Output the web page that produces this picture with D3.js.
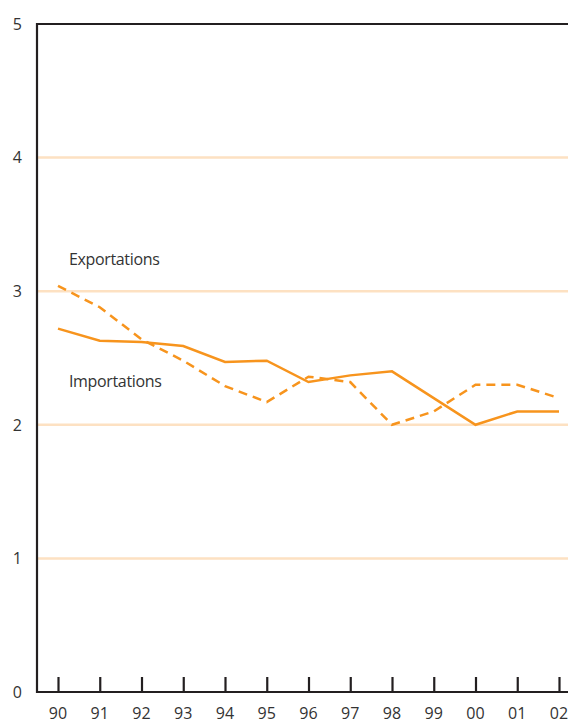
<!DOCTYPE html>
<html>
<head>
<meta charset="utf-8">
<script src="https://cdn.jsdelivr.net/npm/d3@7"></script>
<style>
  body { margin: 0; background: #fff; }
  svg text { font-family: "Open Sans", "Noto Sans", sans-serif; fill: #333; }
</style>
</head>
<body>
<div id="chart"></div>
<script>
const years = ["90", "91", "92", "93", "94", "95", "96", "97", "98", "99", "00", "01", "02"];
const importations = [2.72, 2.63, 2.62, 2.59, 2.47, 2.48, 2.32, 2.37, 2.40, 2.20, 2.00, 2.10, 2.10];
const exportations = [3.04, 2.88, 2.64, 2.48, 2.29, 2.17, 2.36, 2.32, 2.00, 2.10, 2.30, 2.30, 2.20];
const yTicks = [0, 1, 2, 3, 4, 5];

const width = 568, height = 725;
const orange = "#f7941d";

const svg = d3.select("#chart").append("svg")
    .attr("width", width)
    .attr("height", height);

const xScale = d3.scalePoint()
    .domain(years)
    .range([58, 559]);

const yScale = d3.scaleLinear()
    .domain([0, 5])
    .range([692, 24]);

// gridlines
svg.append("g")
    .selectAll("line")
    .data(yTicks.filter(d => d > 0 && d < 5))
    .join("line")
    .attr("x1", 38)
    .attr("x2", width)
    .attr("y1", d => yScale(d))
    .attr("y2", d => yScale(d))
    .attr("stroke", "#fde1c2")
    .attr("stroke-width", 2.5);

// lines
const line = d3.line()
    .x((d, i) => xScale(years[i]))
    .y(d => yScale(d));

svg.append("path")
    .datum(exportations)
    .attr("fill", "none")
    .attr("stroke", orange)
    .attr("stroke-width", 2.5)
    .attr("stroke-dasharray", "9,6")
    .attr("d", line);

svg.append("path")
    .datum(importations)
    .attr("fill", "none")
    .attr("stroke", orange)
    .attr("stroke-width", 2.5)
    .attr("d", line);

// frame: left axis, top line, bottom axis
const axisColor = "#231f20";
svg.append("line")
    .attr("x1", 37).attr("x2", 37)
    .attr("y1", yScale(5) - 1).attr("y2", yScale(0) + 1)
    .attr("stroke", axisColor).attr("stroke-width", 2.2);
svg.append("line")
    .attr("x1", 36).attr("x2", width)
    .attr("y1", yScale(5)).attr("y2", yScale(5))
    .attr("stroke", axisColor).attr("stroke-width", 2.2);

const xAxis = svg.append("g")
    .attr("transform", `translate(0,${yScale(0)})`)
    .call(d3.axisBottom(xScale).tickSize(-15).tickPadding(0).tickFormat(""));
xAxis.select(".domain").remove();
xAxis.selectAll(".tick line").attr("stroke", axisColor).attr("stroke-width", 2.2);
svg.append("line")
    .attr("x1", 36).attr("x2", width)
    .attr("y1", yScale(0)).attr("y2", yScale(0))
    .attr("stroke", axisColor).attr("stroke-width", 2.2);

// x labels
svg.append("g")
    .selectAll("text")
    .data(years)
    .join("text")
    .attr("x", d => xScale(d))
    .attr("y", 719)
    .attr("text-anchor", "middle")
    .style("font-size", "16px")
    .text(d => d);

// y labels
svg.append("g")
    .selectAll("text")
    .data(yTicks)
    .join("text")
    .attr("x", 22)
    .attr("y", d => yScale(d))
    .attr("dy", "0.36em")
    .attr("text-anchor", "end")
    .style("font-size", "16px")
    .text(d => d);

// series labels
svg.append("text")
    .attr("x", 69)
    .attr("y", 265)
    .style("font-size", "16px")
    .style("letter-spacing", "-0.35px")
    .text("Exportations");
svg.append("text")
    .attr("x", 69)
    .attr("y", 387)
    .style("font-size", "16px")
    .style("letter-spacing", "-0.35px")
    .text("Importations");
</script>
</body>
</html>
